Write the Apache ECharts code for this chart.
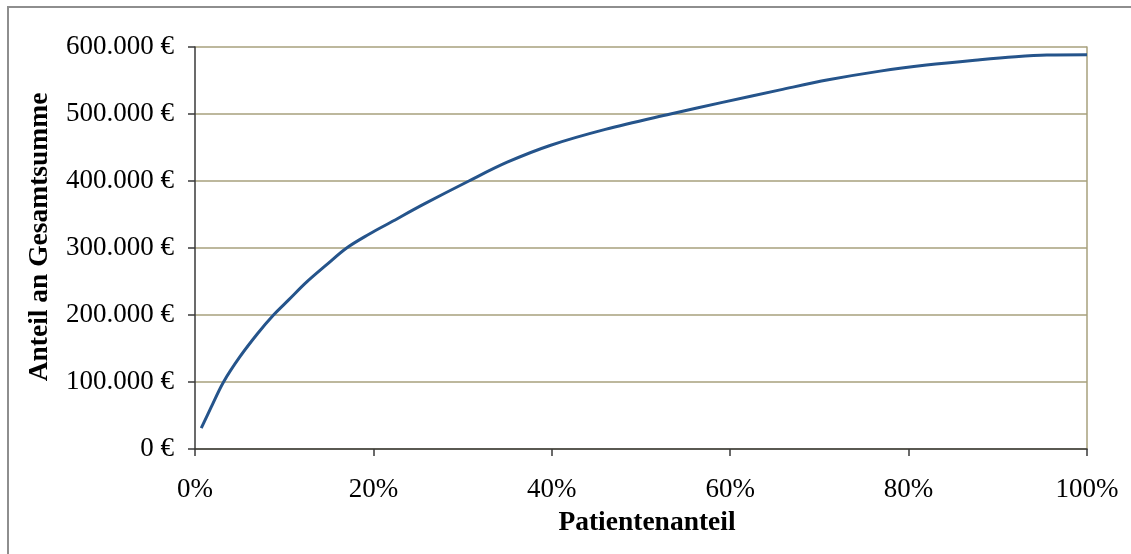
<!DOCTYPE html>
<html>
<head>
<meta charset="utf-8">
<script src="https://cdn.jsdelivr.net/npm/echarts@6/dist/echarts.min.js"></script>
<style>
  html, body { margin: 0; padding: 0; background: #ffffff; }
  #chart { width: 1131px; height: 554px; }
</style>
</head>
<body>
<div id="chart"></div>
<script>
// Cumulative share of the total sum by share of patients
const patientShare = [0.7, 1.8, 3.2, 5.0, 7.0, 8.8, 10.5, 12.5, 14.8, 17.0, 19.5, 21.9, 25.6, 30.7, 35.0, 39.8, 46.0, 53.3, 59.0, 65.6, 71.0, 76.8, 82.0, 88.0, 92.0, 95.5, 100];
const cumulativeSum = [31000, 62000, 100000, 137000, 172000, 200000, 222500, 249000, 275500, 300000, 320500, 338000, 365000, 400000, 428000, 453000, 477000, 500000, 517000, 536000, 551000, 564000, 573000, 581000, 585500, 588000, 588500];
const xTicks = [0, 20, 40, 60, 80, 100];
const yTicks = [0, 100000, 200000, 300000, 400000, 500000, 600000];
const xTitle = 'Patientenanteil';
const yTitle = 'Anteil an Gesamtsumme';

const FONT = '"Liberation Serif", "Times New Roman", serif';
const GRID_COLOR = '#a7a17c';
const AXIS_COLOR = '#3a3a3a';

function euro(v) {
  // German thousands separator
  const s = Math.round(v).toString().replace(/\B(?=(\d{3})+(?!\d))/g, '.');
  return s + ' €';
}

const chart = echarts.init(document.getElementById('chart'), null, { renderer: 'canvas' });

chart.setOption({
  animation: false,
  backgroundColor: '#ffffff',
  grid: { left: 195, right: 44, top: 47, bottom: 105, containLabel: false },
  xAxis: {
    type: 'value',
    min: xTicks[0],
    max: xTicks[xTicks.length - 1],
    interval: 20,
    axisLine: { show: true, onZero: false, lineStyle: { color: AXIS_COLOR, width: 1.5 } },
    axisTick: { show: true, length: 7, lineStyle: { color: AXIS_COLOR, width: 1.5 } },
    axisLabel: {
      margin: 27,
      fontFamily: FONT,
      fontSize: 27,
      color: '#000',
      formatter: v => v + '%'
    },
    splitLine: { show: false }
  },
  yAxis: [{
    type: 'value',
    min: yTicks[0],
    max: yTicks[yTicks.length - 1],
    interval: 100000,
    axisLine: { show: true, lineStyle: { color: AXIS_COLOR, width: 1.5 } },
    axisTick: { show: true, length: 7, lineStyle: { color: AXIS_COLOR, width: 1.5 } },
    axisLabel: {
      margin: 21,
      fontFamily: FONT,
      fontSize: 27,
      color: '#000',
      formatter: euro
    },
    splitLine: { show: true, lineStyle: { color: GRID_COLOR, width: 1.5 } }
  }, {
    // right-hand frame of the plot area
    type: 'value',
    position: 'right',
    min: yTicks[0],
    max: yTicks[yTicks.length - 1],
    axisLine: { show: true, lineStyle: { color: GRID_COLOR, width: 1.5 } },
    axisTick: { show: false },
    axisLabel: { show: false },
    splitLine: { show: false }
  }],
  graphic: [
    {
      type: 'rect',
      shape: { x: 8, y: 7, width: 1300, height: 700 },
      style: { fill: null, stroke: '#8e8e8e', lineWidth: 2 },
      silent: true,
      z: 100
    },
    {
      type: 'text',
      x: 647,
      y: 523,
      style: {
        text: xTitle,
        fontFamily: FONT,
        fontSize: 27.5,
        fontWeight: 'bold',
        fill: '#000',
        align: 'center',
        verticalAlign: 'middle'
      }
    },
    {
      type: 'text',
      x: 40,
      y: 237,
      rotation: Math.PI / 2,
      style: {
        text: yTitle,
        fontFamily: FONT,
        fontSize: 27.5,
        fontWeight: 'bold',
        fill: '#000',
        align: 'center',
        verticalAlign: 'middle'
      }
    }
  ],
  series: [{
    type: 'line',
    data: patientShare.map((p, i) => [p, cumulativeSum[i]]),
    smooth: 0.35,
    showSymbol: false,
    lineStyle: { color: '#25548b', width: 3 },
    z: 5
  }]
});
</script>
</body>
</html>
